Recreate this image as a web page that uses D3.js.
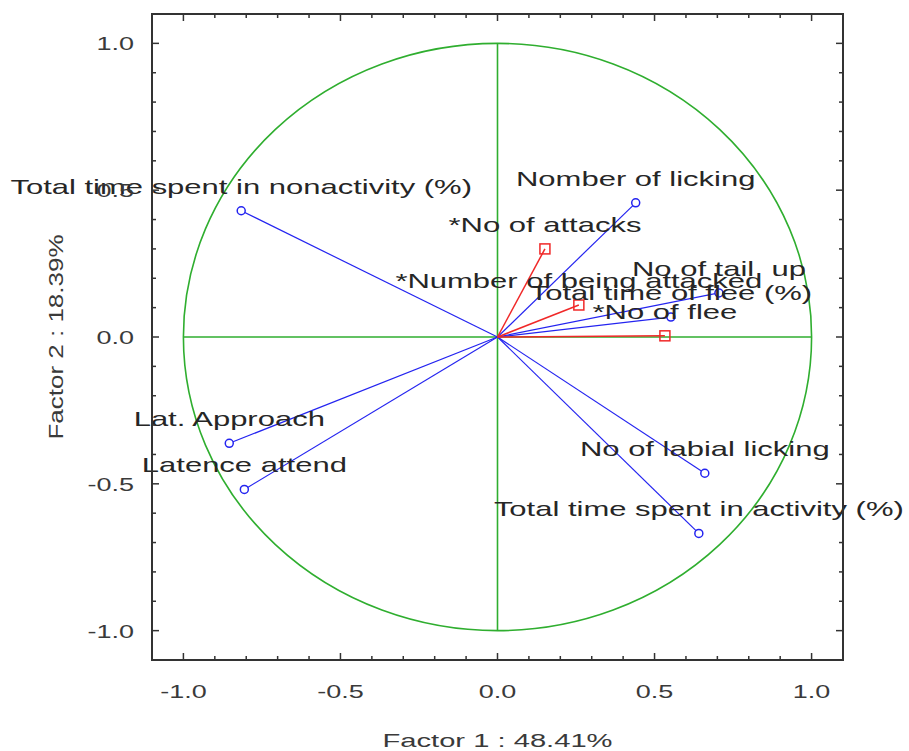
<!DOCTYPE html>
<html>
<head>
<meta charset="utf-8">
<script src="https://cdn.jsdelivr.net/npm/d3@7"></script>
<style>
  html, body { margin: 0; padding: 0; background: #fff; }
  svg { display: block; }
</style>
</head>
<body>
<svg id="chart" width="909" height="751"></svg>
<script>
// Active variables (projected onto factors 1 and 2)
const activeNames = [
  "Total time spent in nonactivity (%)",
  "Nomber of licking",
  "No of tail\u00a0\u00a0up",
  "Total time of flee (%)",
  "Lat. Approach",
  "Latence attend",
  "No of labial licking",
  "Total time spent in activity (%)"
];
const activeF1 = [-0.816, 0.440, 0.705, 0.552, -0.854, -0.806, 0.660, 0.641];
const activeF2 = [ 0.430, 0.457, 0.150, 0.068, -0.362, -0.519, -0.464, -0.669];

// Supplementary variables
const suppNames = ["*No of attacks", "*Number of being attacked", "*No of flee"];
const suppF1 = [0.151, 0.259, 0.533];
const suppF2 = [0.300, 0.109, 0.004];

// Axis ticks
const tickValues = [-1.0, -0.5, 0.0, 0.5, 1.0];
const tickLabels = ["-1.0", "-0.5", "0.0", "0.5", "1.0"];
const xTitle = "Factor 1 : 48.41%";
const yTitle = "Factor 2 : 18.39%";

const svg = d3.select("#chart");
const plotLeft = 152, plotRight = 843, plotTop = 14, plotBottom = 660;

const x = d3.scaleLinear().domain([-1.1, 1.1]).range([plotLeft, plotRight]);
const y = d3.scaleLinear().domain([-1.1, 1.1]).range([plotBottom, plotTop]);

const FONT = "'Liberation Sans', Arial, sans-serif";
const textColor = "#262626";
const green = "#2fae2f";
const blue = "#2424f0";
const red = "#f02828";

// Text with horizontal stretch around an anchor point
function stretchedText(g, str, px, py, size, sx, anchor, fill) {
  return g.append("text")
    .attr("transform", `translate(${px},${py}) scale(${sx},1)`)
    .attr("text-anchor", anchor)
    .attr("font-family", FONT)
    .attr("font-size", size)
    .attr("fill", fill || textColor)
    .text(str);
}

// Unit correlation circle and crosshair
const plot = svg.append("g");
plot.append("ellipse")
  .attr("cx", x(0)).attr("cy", y(0))
  .attr("rx", x(1) - x(0)).attr("ry", y(0) - y(1))
  .attr("fill", "none").attr("stroke", green).attr("stroke-width", 1.6);
plot.append("line")
  .attr("x1", x(-1)).attr("x2", x(1)).attr("y1", y(0)).attr("y2", y(0))
  .attr("stroke", green).attr("stroke-width", 1.6);
plot.append("line")
  .attr("x1", x(0)).attr("x2", x(0)).attr("y1", y(1)).attr("y2", y(-1))
  .attr("stroke", green).attr("stroke-width", 1.6);

// Vectors for active variables
activeF1.forEach((v, i) => {
  plot.append("line")
    .attr("x1", x(0)).attr("y1", y(0))
    .attr("x2", x(v)).attr("y2", y(activeF2[i]))
    .attr("stroke", blue).attr("stroke-width", 1.2);
});
// Vectors for supplementary variables
suppF1.forEach((v, i) => {
  plot.append("line")
    .attr("x1", x(0)).attr("y1", y(0))
    .attr("x2", x(v)).attr("y2", y(suppF2[i]))
    .attr("stroke", red).attr("stroke-width", 1.5);
});

// Markers
activeF1.forEach((v, i) => {
  plot.append("circle")
    .attr("cx", x(v)).attr("cy", y(activeF2[i])).attr("r", 4)
    .attr("fill", "#fff").attr("stroke", blue).attr("stroke-width", 1.5);
});
suppF1.forEach((v, i) => {
  plot.append("rect")
    .attr("x", x(v) - 5).attr("y", y(suppF2[i]) - 5)
    .attr("width", 10).attr("height", 10)
    .attr("fill", "none").attr("stroke", red).attr("stroke-width", 1.5);
});

// Point labels, centred above each marker
const labels = svg.append("g");
activeF1.forEach((v, i) => {
  stretchedText(labels, activeNames[i], x(v), y(activeF2[i]) - 17, 20, 1.55, "middle");
});
suppF1.forEach((v, i) => {
  stretchedText(labels, suppNames[i], x(v), y(suppF2[i]) - 17, 20, 1.55, "middle");
});

// Frame and inward ticks on all four sides
const frame = svg.append("g");
frame.append("rect")
  .attr("x", plotLeft).attr("y", plotTop)
  .attr("width", plotRight - plotLeft).attr("height", plotBottom - plotTop)
  .attr("fill", "none").attr("stroke", "#333").attr("stroke-width", 2);

const minor = d3.range(-10, 11).map(d => d / 10);
minor.forEach(t => {
  const major = Math.abs(Math.round(t * 10) % 5) === 0;
  const len = major ? 7 : 4;
  frame.append("line").attr("x1", x(t)).attr("x2", x(t))
    .attr("y1", plotBottom).attr("y2", plotBottom - len).attr("stroke", "#333").attr("stroke-width", 1.5);
  frame.append("line").attr("x1", x(t)).attr("x2", x(t))
    .attr("y1", plotTop).attr("y2", plotTop + len).attr("stroke", "#333").attr("stroke-width", 1.5);
  frame.append("line").attr("y1", y(t)).attr("y2", y(t))
    .attr("x1", plotLeft).attr("x2", plotLeft + len).attr("stroke", "#333").attr("stroke-width", 1.5);
  frame.append("line").attr("y1", y(t)).attr("y2", y(t))
    .attr("x1", plotRight).attr("x2", plotRight - len).attr("stroke", "#333").attr("stroke-width", 1.5);
});

// Tick labels
tickValues.forEach((t, i) => {
  stretchedText(frame, tickLabels[i], x(t), 698, 18, 1.5, "middle", "#3a3a3a");
  stretchedText(frame, tickLabels[i], 134, y(t) + 7, 18, 1.5, "end", "#3a3a3a");
});

// Axis titles
stretchedText(svg, xTitle, x(0), 747, 18, 1.62, "middle", "#3a3a3a");
svg.append("text")
  .attr("transform", `translate(63,${y(0)}) rotate(-90) scale(1.3,1)`)
  .attr("text-anchor", "middle")
  .attr("font-family", FONT).attr("font-size", 20)
  .attr("fill", "#3a3a3a")
  .text(yTitle);
</script>
</body>
</html>
